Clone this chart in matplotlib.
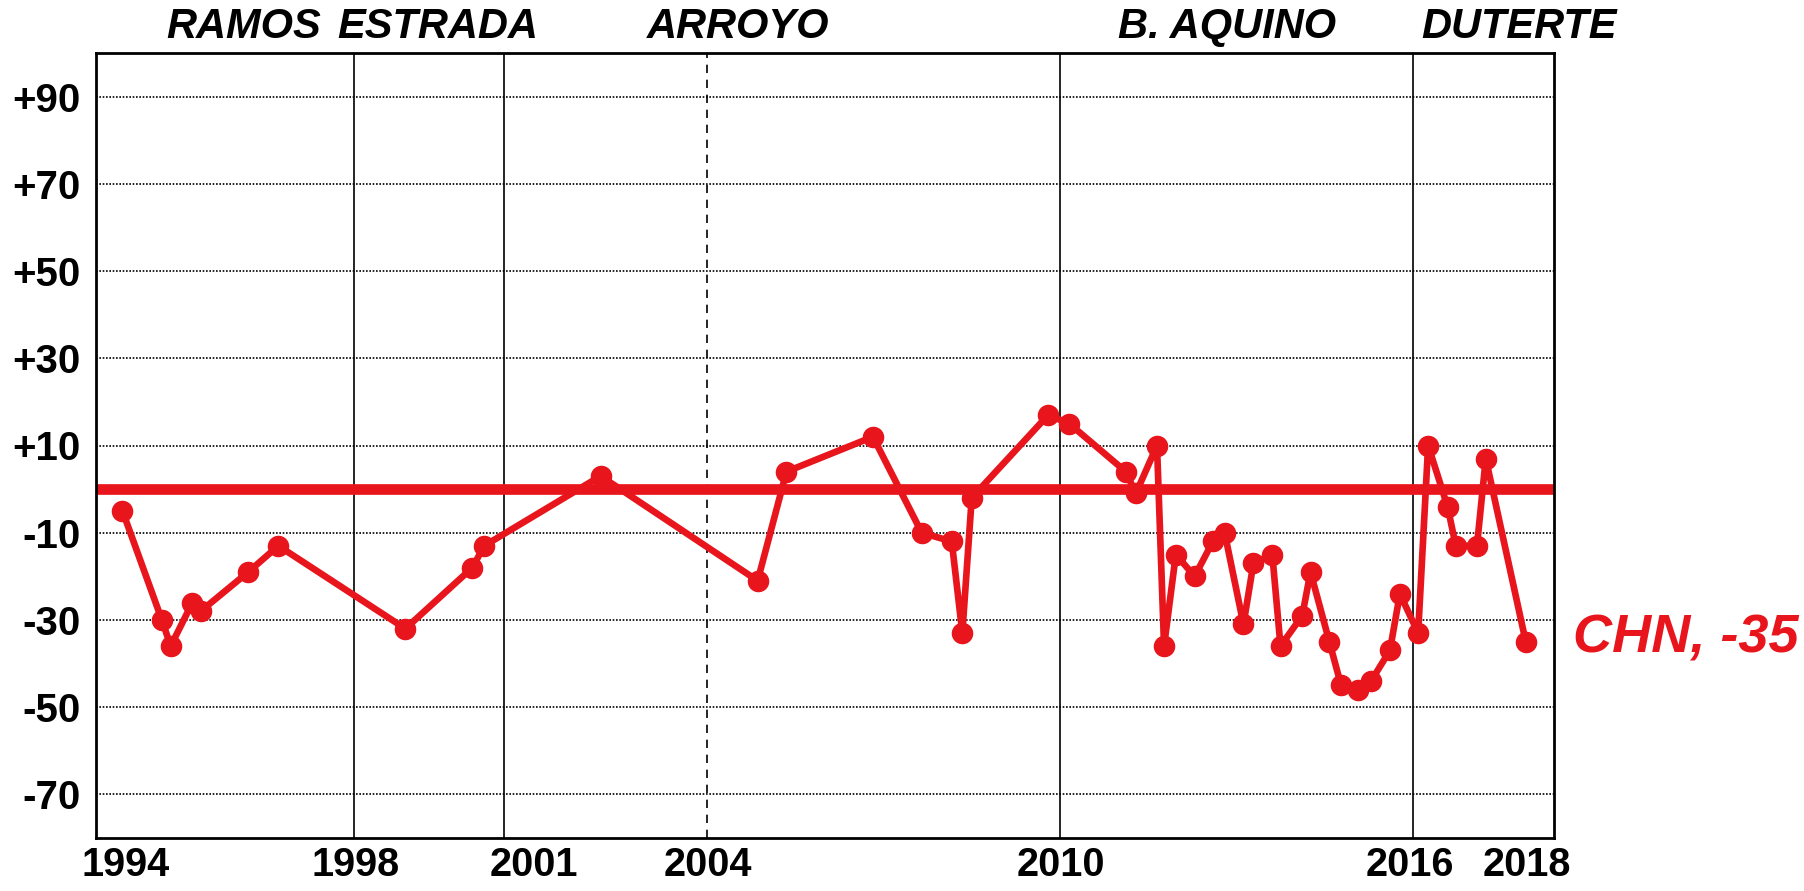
import matplotlib
matplotlib.use("Agg")
import matplotlib.pyplot as plt
import matplotlib.transforms as mtransforms

plt.rcParams["font.family"] = ["Liberation Sans", "DejaVu Sans"]

# survey dates (decimal years) and net trust ratings for China
years = [1994.56, 1995.23, 1995.38, 1995.75, 1995.89, 1996.70, 1997.21,
         1999.37, 2000.51, 2000.71, 2002.69, 2005.36, 2005.85, 2007.32,
         2008.15, 2008.66, 2008.84, 2009.00, 2010.30, 2010.66, 2011.62,
         2011.79, 2012.15, 2012.27, 2012.47, 2012.79, 2013.10, 2013.30,
         2013.62, 2013.79, 2014.11, 2014.25, 2014.62, 2014.76, 2015.08,
         2015.28, 2015.57, 2015.79, 2016.11, 2016.28, 2016.59, 2016.76,
         2017.09, 2017.23, 2017.59, 2017.74, 2018.42]
values = [-5, -30, -36, -26, -28, -19, -13,
          -32, -18, -13, 3, -21, 4, 12,
          -10, -12, -33, -2, 17, 15, 4,
          -1, 10, -36, -15, -20, -12, -10,
          -31, -17, -15, -36, -29, -19, -35,
          -45, -46, -44, -37, -24, -33, 10,
          -4, -13, -13, 7, -35]

# presidential terms
presidents = ["RAMOS", "ESTRADA", "ARROYO", "B. AQUINO", "DUTERTE"]
president_x = [1996.62, 1999.92, 2005.02, 2013.34, 2018.30]
term_starts = [1998.5, 2001.05, 2010.5, 2016.5]
second_term = 2004.5

# axes labels
xtick_labels = ["1994", "1998", "2001", "2004", "2010", "2016", "2018"]
xtick_pos = [1994.62, 1998.52, 2001.56, 2004.52, 2010.52, 2016.45, 2018.43]
ytick_vals = [90, 70, 50, 30, 10, -10, -30, -50, -70]
ytick_labels = ["+90", "+70", "+50", "+30", "+10", "-10", "-30", "-50", "-70"]

red = "#e8161c"

fig = plt.figure(figsize=(18.04, 8.91), dpi=100)
ax = fig.add_axes([96 / 1804, 53 / 891, (1554 - 96) / 1804, (838 - 53) / 891])

ax.set_xlim(1994.11, 2018.90)
ax.set_ylim(-80, 100)

# dotted horizontal grid
for v in ytick_vals:
    ax.axhline(v, color="black", linestyle=(0, (1, 1)), linewidth=1.2, zorder=1)

# term dividers
for t in term_starts:
    ax.axvline(t, color="black", linewidth=1.2, zorder=1)
ax.axvline(second_term, color="black", linewidth=1.2, linestyle=(0, (5, 4)), zorder=1)

# zero line
ax.axhline(0, color=red, linewidth=7.7, zorder=2)

# series
ax.plot(years, values, color=red, linewidth=4.8, marker="o", markersize=14.5,
        zorder=3)

ax.text(years[-1] + 0.8, values[-1] + 0.7, f"CHN, {values[-1]}", color=red,
        fontsize=39, fontweight="bold", fontstyle="italic", va="center",
        ha="left", clip_on=False)

# president names above the plot
trans = mtransforms.blended_transform_factory(ax.transData, fig.transFigure)
for name, px in zip(presidents, president_x):
    ax.text(px, 1 - 27 / 891, name, transform=trans, ha="center", va="center",
            fontsize=30, fontweight="bold", fontstyle="italic", color="black")

ax.set_xticks(xtick_pos)
ax.set_xticklabels(xtick_labels, fontsize=28.5, fontweight="bold")
ax.set_yticks(ytick_vals)
ax.set_yticklabels(ytick_labels, fontsize=29, fontweight="bold")
ax.tick_params(axis="both", length=0)
ax.tick_params(axis="x", pad=6)
ax.tick_params(axis="y", pad=11)

for s in ax.spines.values():
    s.set_linewidth(2)
    s.set_color("black")

fig.savefig("out.png", dpi=100)
